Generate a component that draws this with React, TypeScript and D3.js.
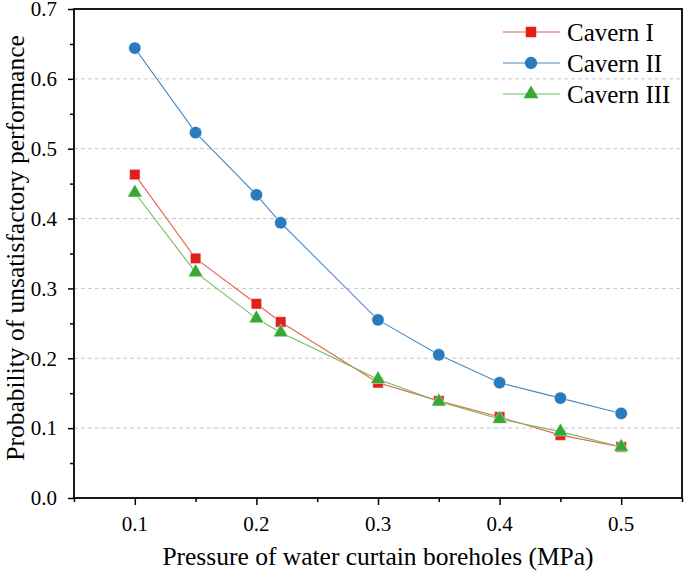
import * as d3 from 'd3';
import { useEffect, useRef } from 'react';

const pressures = [0.1, 0.15, 0.2, 0.22, 0.3, 0.35, 0.4, 0.45, 0.5];
const cavernI = [0.463, 0.343, 0.278, 0.252, 0.165, 0.139, 0.116, 0.09, 0.073];
const cavernII = [0.644, 0.523, 0.434, 0.394, 0.255, 0.205, 0.165, 0.143, 0.121];
const cavernIII = [0.437, 0.323, 0.257, 0.237, 0.17, 0.138, 0.113, 0.095, 0.073];
const seriesNames = ['Cavern I', 'Cavern II', 'Cavern III'];
const xTicks = [0.1, 0.2, 0.3, 0.4, 0.5];
const yTicks = [0, 0.1, 0.2, 0.3, 0.4, 0.5, 0.6, 0.7];

const W = 685;
const H = 578;
const FONT = "'Liberation Serif', 'DejaVu Serif', serif";

export default function App() {
  const ref = useRef<SVGSVGElement | null>(null);

  useEffect(() => {
    if (!ref.current) return;
    const svg = d3.select(ref.current);
    svg.selectAll('*').remove();

    const left = 74, right = 682, top = 9, bottom = 498;
    const x = d3.scaleLinear().domain([0.05, 0.55]).range([left, right]);
    const y = d3.scaleLinear().domain([0, 0.7]).range([bottom, top]);

    const series = [
      { name: seriesNames[0], values: cavernI, color: '#e0201b', line: '#e8614d', shape: d3.symbolSquare, size: 110 },
      { name: seriesNames[1], values: cavernII, color: '#2a7abf', line: '#4a8ac6', shape: d3.symbolCircle, size: 120 },
      { name: seriesNames[2], values: cavernIII, color: '#35a935', line: '#6cbf5c', shape: d3.symbolTriangle, size: 95 },
    ];

    // grid
    svg.append('g')
      .selectAll('line')
      .data(yTicks.filter(t => t > 0 && t < 0.7))
      .join('line')
      .attr('x1', left).attr('x2', right)
      .attr('y1', d => y(d)).attr('y2', d => y(d))
      .attr('stroke', '#c8c8c8')
      .attr('stroke-width', 1)
      .attr('stroke-dasharray', '4,3');

    // y axis
    const yAxis = svg.append('g').attr('transform', `translate(${left},0)`);
    yAxis.call(d3.axisLeft(y).tickValues(d3.range(0, 0.701, 0.05)).tickSize(6).tickFormat(() => ''))
      .call(g => g.select('.domain').remove())
      .call(g => g.selectAll('.tick text').remove())
      .call(g => g.selectAll('line').attr('stroke', '#000').attr('stroke-width', 1.5));
    yAxis.selectAll('.tick')
      .filter((d: any) => Math.round(d * 100) % 10 !== 0)
      .select('line').attr('x2', -4);
    yAxis.selectAll('text.ylab')
      .data(yTicks)
      .join('text')
      .attr('class', 'ylab')
      .attr('x', -17)
      .attr('y', d => y(d))
      .attr('dy', '0.35em')
      .attr('text-anchor', 'end')
      .attr('fill', '#000')
      .style('font-family', FONT)
      .style('font-size', '21px')
      .text(d => d.toFixed(1));

    // x axis
    const xAxis = svg.append('g').attr('transform', `translate(0,${bottom})`);
    xAxis.call(d3.axisBottom(x).tickValues(d3.range(0.05, 0.551, 0.05)).tickSize(7).tickFormat(() => ''))
      .call(g => g.select('.domain').remove())
      .call(g => g.selectAll('.tick text').remove())
      .call(g => g.selectAll('line').attr('stroke', '#000').attr('stroke-width', 1.5));
    xAxis.selectAll('.tick')
      .filter((d: any) => Math.round(d * 100) % 10 !== 0)
      .select('line').attr('y2', 4);
    xAxis.selectAll('text.xlab')
      .data(xTicks)
      .join('text')
      .attr('class', 'xlab')
      .attr('x', d => x(d))
      .attr('y', 33)
      .attr('text-anchor', 'middle')
      .attr('fill', '#000')
      .style('font-family', FONT)
      .style('font-size', '21px')
      .text(d => d.toFixed(1));

    // frame
    svg.append('rect')
      .attr('x', left).attr('y', top)
      .attr('width', right - left).attr('height', bottom - top)
      .attr('fill', 'none')
      .attr('stroke', '#000')
      .attr('stroke-width', 1.8);

    // series
    const line = d3.line<number>()
      .x((_, i) => x(pressures[i]))
      .y(d => y(d));

    series.forEach(s => {
      svg.append('path')
        .datum(s.values)
        .attr('d', line)
        .attr('fill', 'none')
        .attr('stroke', s.line)
        .attr('stroke-width', 1.1);
    });
    series.forEach(s => {
      const sym = d3.symbol().type(s.shape).size(s.size);
      svg.append('g')
        .selectAll('path')
        .data(s.values)
        .join('path')
        .attr('d', sym)
        .attr('transform', (d, i) => `translate(${x(pressures[i])},${y(d)})`)
        .attr('fill', s.color)
        .attr('stroke', '#ffffff')
        .attr('stroke-opacity', 0.6)
        .attr('stroke-width', 0.8);
    });

    // legend
    const legend = svg.append('g');
    series.forEach((s, i) => {
      const ly = 32 + i * 31;
      legend.append('line')
        .attr('x1', 503).attr('x2', 560)
        .attr('y1', ly).attr('y2', ly)
        .attr('stroke', s.line)
        .attr('stroke-width', 1.1);
      legend.append('path')
        .attr('d', d3.symbol().type(s.shape).size(s.size)())
        .attr('transform', `translate(531,${ly})`)
        .attr('fill', s.color);
      legend.append('text')
        .attr('x', 567)
        .attr('y', ly)
        .attr('dy', '0.35em')
        .attr('fill', '#000')
        .style('font-family', FONT)
        .style('font-size', '25px')
        .text(s.name);
    });

    // axis titles
    svg.append('text')
      .attr('x', 378)
      .attr('y', 565)
      .attr('text-anchor', 'middle')
      .attr('fill', '#000')
      .style('font-family', FONT)
      .style('font-size', '25.5px')
      .text('Pressure of water curtain boreholes (MPa)');

    svg.append('text')
      .attr('transform', `translate(24,248) rotate(-90)`)
      .attr('text-anchor', 'middle')
      .attr('fill', '#000')
      .style('font-family', FONT)
      .style('font-size', '25.5px')
      .text('Probability of unsatisfactory performance');
  }, []);

  return (
    <svg
      ref={ref}
      width={W}
      height={H}
      viewBox={`0 0 ${W} ${H}`}
      style={{ position: 'absolute', left: 0, top: 0, background: '#fff' }}
    />
  );
}
